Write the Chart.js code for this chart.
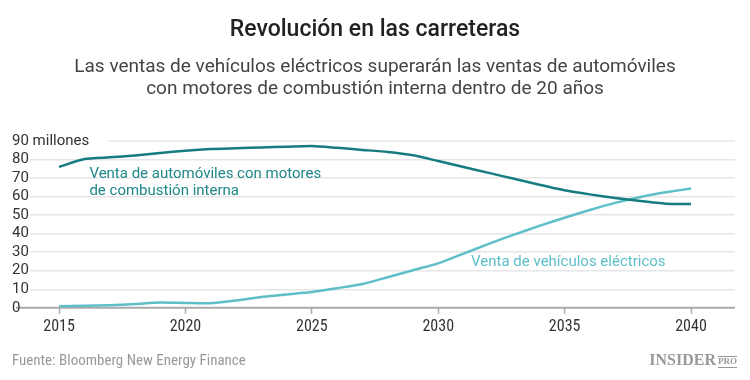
<!DOCTYPE html>
<html>
<head>
<meta charset="utf-8">
<script src="https://cdn.jsdelivr.net/npm/chart.js@4.4.1/dist/chart.umd.min.js"></script>
<style>
  html, body { margin: 0; padding: 0; background: #fff; }
  #chart { display: block; }
</style>
</head>
<body>
<canvas id="chart" width="750" height="380"></canvas>
<script>
const years = [2015, 2016, 2017, 2018, 2019, 2020, 2021, 2022, 2023, 2024, 2025, 2026, 2027,
               2028, 2029, 2030, 2031, 2032, 2033, 2034, 2035, 2036, 2037, 2038, 2039, 2040];
const combustion = [76.0, 80.3, 81.2, 82.2, 83.5, 84.8, 85.7, 86.1, 86.5, 86.9, 87.3, 86.3, 85.2,
                    84.1, 82.3, 79.2, 76.0, 72.8, 69.6, 66.4, 63.4, 61.2, 59.3, 57.6, 56.2, 56.0];
const electric = [0.8, 1.1, 1.4, 2.0, 2.8, 2.6, 2.5, 4.0, 5.8, 7.2, 8.5, 10.6, 12.8,
                  16.5, 20.3, 24.0, 29.2, 34.5, 39.5, 44.2, 48.6, 52.8, 56.6, 59.8, 62.3, 64.4];
const xTicks = [2015, 2020, 2025, 2030, 2035, 2040];
const yTicks = [0, 10, 20, 30, 40, 50, 60, 70, 80, 90];

const title = 'Revolución en las carreteras';
const subtitle = [
    'Las ventas de vehículos eléctricos superarán las ventas de automóviles',
    'con motores de combustión interna dentro de 20 años'
];
const source = 'Fuente: Bloomberg New Energy Finance';

const darkTeal = '#177c80';
const lightTeal = '#5ebfc9';
const narrow = "'Liberation Sans Narrow', 'Roboto Condensed', Roboto, sans-serif";

const textPlugin = {
    id: 'textPlugin',
    beforeDatasetsDraw: (chart) => {
        const { ctx, chartArea, scales } = chart;
        const y = scales.y;
        ctx.save();
        // top gridline starts after the "90 millones" label
        ctx.strokeStyle = '#e6e6e6';
        ctx.lineWidth = 1.5;
        ctx.beginPath();
        ctx.moveTo(108, y.getPixelForValue(90));
        ctx.lineTo(chartArea.right, y.getPixelForValue(90));
        ctx.stroke();
        // base axis line
        ctx.strokeStyle = '#aaaaaa';
        ctx.lineWidth = 2;
        ctx.beginPath();
        ctx.moveTo(16, y.getPixelForValue(0));
        ctx.lineTo(chartArea.right, y.getPixelForValue(0));
        ctx.stroke();
        ctx.restore();
    },
    afterDraw: (chart) => {
        const { ctx, scales } = chart;
        const x = scales.x;
        const y = scales.y;
        ctx.save();

        ctx.textAlign = 'center';
        ctx.textBaseline = 'middle';
        ctx.fillStyle = '#222';
        ctx.font = '500 23px Roboto';
        ctx.fillText(title, 375, 30);

        ctx.fillStyle = '#444';
        ctx.font = '19px Roboto';
        ctx.fillText(subtitle[0], 375, 67);
        ctx.fillText(subtitle[1], 375, 89);

        // y labels
        ctx.textAlign = 'left';
        ctx.fillStyle = '#333';
        ctx.font = '15px Roboto';
        yTicks.forEach(v => {
            const label = v === 90 ? '90 millones' : String(v);
            ctx.fillText(label, 12, y.getPixelForValue(v));
        });

        // annotations
        ctx.font = '15px Roboto';
        ctx.fillStyle = '#1f8789';
        const ax = x.getPixelForValue(2016.2);
        const ay = y.getPixelForValue(72.3);
        ctx.fillText('Venta de automóviles con motores', ax, ay);
        ctx.fillText('de combustión interna', ax, ay + 17);

        ctx.fillStyle = lightTeal;
        ctx.fillText('Venta de vehículos eléctricos', x.getPixelForValue(2031.3), y.getPixelForValue(24.6));

        // footer
        ctx.fillStyle = '#999';
        ctx.font = '15px ' + narrow;
        ctx.fillText(source, 12, 361);

        ctx.textAlign = 'right';
        ctx.font = 'bold 9px "Liberation Serif", serif';
        ctx.fillText('PRO', 737, 362);
        const proW = ctx.measureText('PRO').width;
        ctx.strokeStyle = '#999';
        ctx.lineWidth = 1;
        ctx.beginPath();
        ctx.moveTo(737 - proW, 356.5);
        ctx.lineTo(737, 356.5);
        ctx.moveTo(737 - proW, 367.5);
        ctx.lineTo(737, 367.5);
        ctx.stroke();
        ctx.font = 'bold 16px "Liberation Serif", serif';
        ctx.fillText('INSIDER', 737 - proW - 2, 361);

        ctx.restore();
    }
};

new Chart(document.getElementById('chart').getContext('2d'), {
    type: 'line',
    data: {
        datasets: [{
            label: 'Venta de automóviles con motores de combustión interna',
            data: years.map((yr, i) => ({ x: yr, y: combustion[i] })),
            borderColor: darkTeal,
            borderWidth: 2.5,
            pointRadius: 0,
            tension: 0.2,
            fill: false
        }, {
            label: 'Venta de vehículos eléctricos',
            data: years.map((yr, i) => ({ x: yr, y: electric[i] })),
            borderColor: lightTeal,
            borderWidth: 2.5,
            pointRadius: 0,
            tension: 0.2,
            fill: false
        }]
    },
    options: {
        responsive: false,
        devicePixelRatio: 1,
        animation: false,
        layout: { padding: { top: 141, left: 30, right: 15, bottom: 39 } },
        plugins: {
            legend: { display: false },
            tooltip: { enabled: false }
        },
        scales: {
            x: {
                type: 'linear',
                min: 2013.85,
                max: 2041.74,
                afterBuildTicks: (scale) => {
                    scale.ticks = xTicks.map(v => ({ value: v }));
                },
                grid: {
                    drawOnChartArea: false,
                    drawTicks: true,
                    tickLength: 6,
                    tickColor: '#aaaaaa',
                    tickWidth: 1.5
                },
                border: { display: false },
                ticks: {
                    padding: 4,
                    color: '#333',
                    font: { family: narrow, size: 16 },
                    maxRotation: 0,
                    callback: (v) => String(v)
                }
            },
            y: {
                min: 0,
                max: 90,
                afterBuildTicks: (scale) => {
                    scale.ticks = yTicks.map(v => ({ value: v }));
                },
                grid: {
                    drawTicks: false,
                    color: (c) => (c.tick && (c.tick.value === 90 || c.tick.value === 0)) ? 'rgba(0,0,0,0)' : '#e6e6e6',
                    lineWidth: 1.5
                },
                border: { display: false },
                ticks: { display: false }
            }
        }
    },
    plugins: [textPlugin]
});
</script>
</body>
</html>
